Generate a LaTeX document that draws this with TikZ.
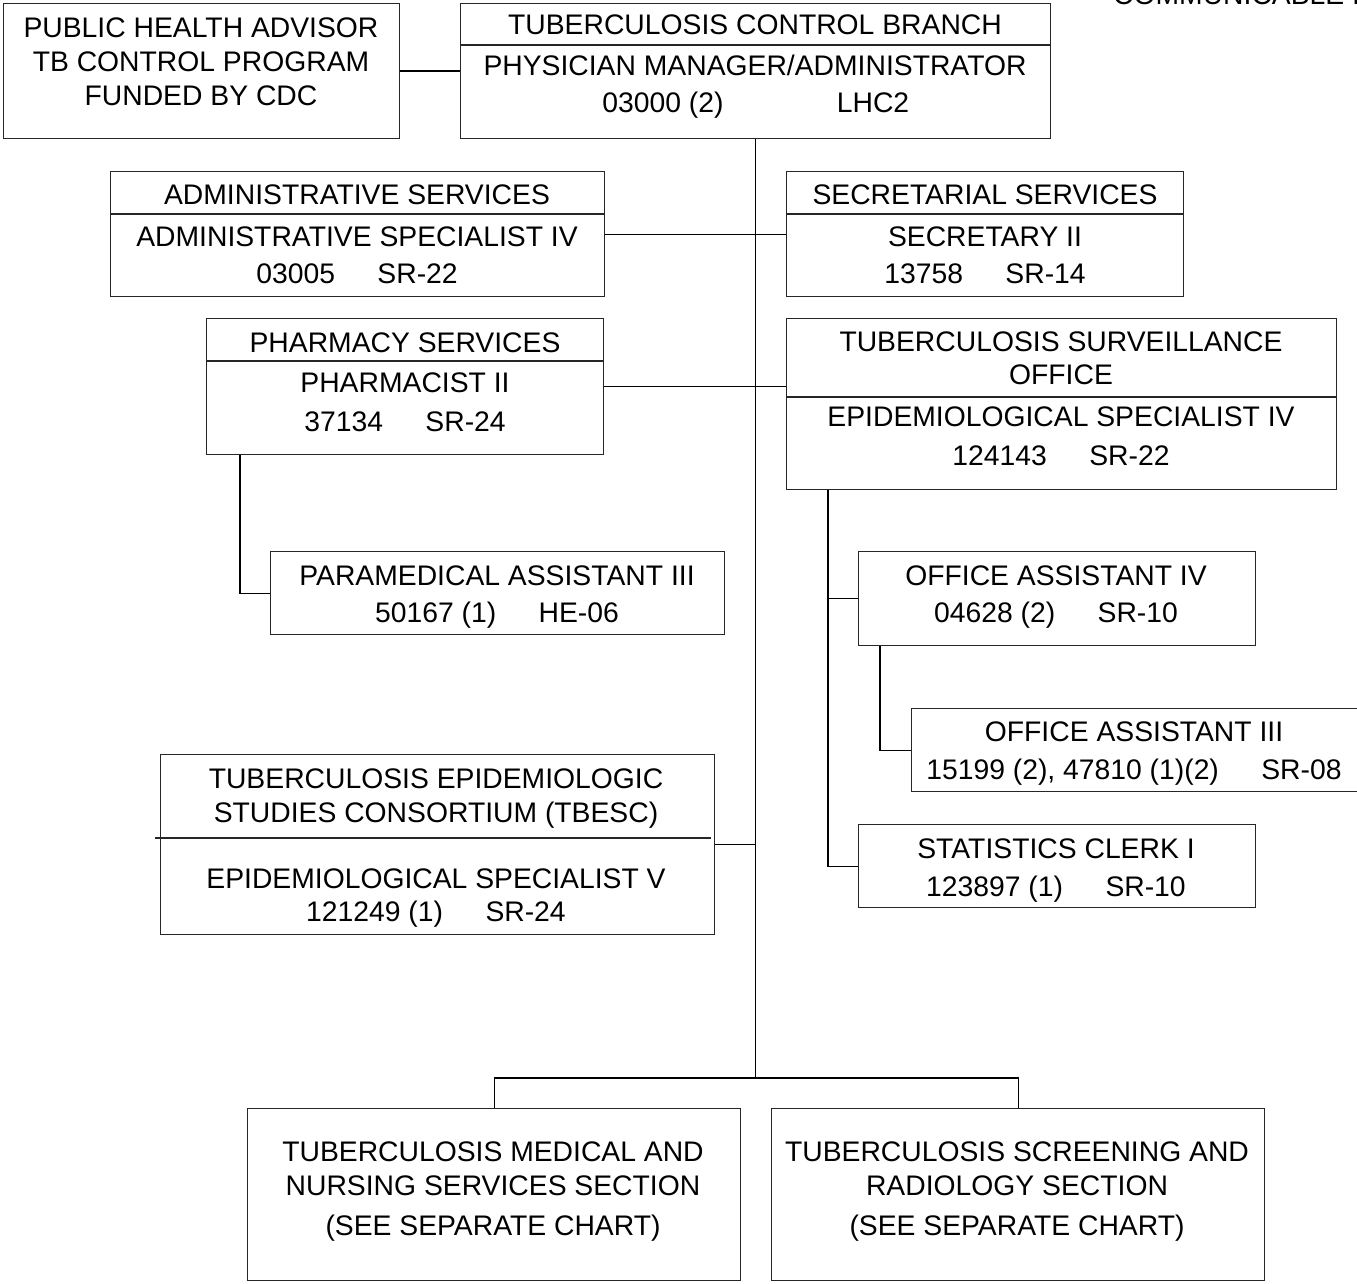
\documentclass[tikz,border=0pt]{standalone}
\usepackage{fontspec}
\setmainfont{Liberation Sans}
\begin{document}
\begin{tikzpicture}[x=1pt,y=-1pt,
  box/.style={draw=black!85, line width=1.1pt, inner sep=0pt, anchor=north west},
  lbl/.style={anchor=base, inner sep=0pt, font=\fontsize{28.3}{34}\selectfont},
  conn/.style={draw=black, line width=1.1pt}]
\useasboundingbox (0,0) rectangle (1357,1284);
% boxes
\node[box, minimum width=396pt, minimum height=135pt] (pha) at (3,3) {};
\node[box, minimum width=590pt, minimum height=135pt] (tcb) at (460,3) {};
\node[box, minimum width=494pt, minimum height=125pt] (adm) at (110,171) {};
\node[box, minimum width=397pt, minimum height=125pt] (sec) at (786,171) {};
\node[box, minimum width=397pt, minimum height=136pt] (phm) at (206,318) {};
\node[box, minimum width=550pt, minimum height=171pt] (surv) at (786,318) {};
\node[box, minimum width=454pt, minimum height=83pt] (para) at (270,551) {};
\node[box, minimum width=397pt, minimum height=94pt] (oa4) at (858,551) {};
\node[box, minimum width=480pt, minimum height=83pt] (oa3) at (911,708) {};
\node[box, minimum width=397pt, minimum height=83pt] (stat) at (858,824) {};
\node[box, minimum width=554pt, minimum height=180pt] (tbesc) at (160,754) {};
\node[box, minimum width=493pt, minimum height=172pt] (med) at (247,1108) {};
\node[box, minimum width=493pt, minimum height=172pt] (scr) at (771,1108) {};
% dividers
\coordinate (d1) at (0,45);
\coordinate (d2) at (0,214);
\coordinate (d3) at (0,361);
\coordinate (d4) at (0,397);
\draw[black!85, line width=1.1pt] (tcb.west |- d1) -- (tcb.east |- d1);
\draw[black!85, line width=1.1pt] (adm.west |- d2) -- (adm.east |- d2);
\draw[black!85, line width=1.1pt] (sec.west |- d2) -- (sec.east |- d2);
\draw[black!85, line width=1.1pt] (phm.west |- d3) -- (phm.east |- d3);
\draw[black!85, line width=1.1pt] (surv.west |- d4) -- (surv.east |- d4);
\coordinate (t1) at (155,838);
\coordinate (t2) at (711,838);
\draw[black!85, line width=1.1pt] (t1) -- (t2);
% connectors
\coordinate (bar) at (755,1078);
\coordinate (pv) at (240,0);
\coordinate (sv) at (828,0);
\coordinate (ov) at (880,0);
\draw[conn] (pha.east) -- (tcb.west);
\draw[conn] (tcb.south) -- (tcb.south |- bar);
\draw[conn] (med.north) -- (med.north |- bar) -- (scr.north |- bar) -- (scr.north);
\draw[conn] (adm.east) -- (sec.west);
\draw[conn] (phm.east) -- (phm.east -| surv.west);
\draw[conn] (tbesc.east) -- (tbesc.east -| tcb.south);
\draw[conn] (phm.south -| pv) -- (para.west -| pv) -- (para.west);
\draw[conn] (surv.south -| sv) -- (stat.west -| sv) -- (stat.west);
\draw[conn] (oa4.west -| sv) -- (oa4.west);
\draw[conn] (oa4.south -| ov) -- (oa3.west -| ov) -- (oa3.west);
% texts
\node[lbl, anchor=base west] (hdr) at (1113,5) {COMMUNICABLE I};
\node[lbl] (pha1) at (201,38) {PUBLIC HEALTH ADVISOR};
\node[lbl] (pha2) at (201,72) {TB CONTROL PROGRAM};
\node[lbl] (pha3) at (201,106) {FUNDED BY CDC};
\node[lbl] (tcb1) at (755,35) {TUBERCULOSIS CONTROL BRANCH};
\node[lbl] (tcb2) at (755,76) {PHYSICIAN MANAGER/ADMINISTRATOR};
\node[lbl] (tcb3) at (663,113) {03000 (2)};
\node[lbl] (tcb4) at (873,113) {LHC2};
\node[lbl] (adm1) at (357,205) {ADMINISTRATIVE SERVICES};
\node[lbl] (adm2) at (357,246) {ADMINISTRATIVE SPECIALIST IV};
\node[lbl] (adm3) at (357,283) {03005\hspace{1.5em}SR-22};
\node[lbl] (sec1) at (985,205) {SECRETARIAL SERVICES};
\node[lbl] (sec2) at (985,246) {SECRETARY II};
\node[lbl] (sec3) at (985,283) {13758\hspace{1.5em}SR-14};
\node[lbl] (phm1) at (405,352) {PHARMACY SERVICES};
\node[lbl] (phm2) at (405,392) {PHARMACIST II};
\node[lbl] (phm3) at (405,431) {37134\hspace{1.5em}SR-24};
\node[lbl] (srv1) at (1061,351) {TUBERCULOSIS SURVEILLANCE};
\node[lbl] (srv2) at (1061,384) {OFFICE};
\node[lbl] (srv3) at (1061,426) {EPIDEMIOLOGICAL SPECIALIST IV};
\node[lbl] (srv4) at (1061,465) {124143\hspace{1.5em}SR-22};
\node[lbl] (par1) at (497,585) {PARAMEDICAL ASSISTANT III};
\node[lbl] (par2) at (497,622) {50167 (1)\hspace{1.5em}HE-06};
\node[lbl] (oa41) at (1056,585) {OFFICE ASSISTANT IV};
\node[lbl] (oa42) at (1056,622) {04628 (2)\hspace{1.5em}SR-10};
\node[lbl] (oa31) at (1134,741) {OFFICE ASSISTANT III};
\node[lbl] (oa32) at (1134,779) {15199 (2), 47810 (1)(2)\hspace{1.5em}SR-08};
\node[lbl] (st1) at (1056,858) {STATISTICS CLERK I};
\node[lbl] (st2) at (1056,896) {123897 (1)\hspace{1.5em}SR-10};
\node[lbl] (tb1) at (436,788) {TUBERCULOSIS EPIDEMIOLOGIC};
\node[lbl] (tb2) at (436,822) {STUDIES CONSORTIUM (TBESC)};
\node[lbl] (tb3) at (436,888) {EPIDEMIOLOGICAL SPECIALIST V};
\node[lbl] (tb4) at (436,921) {121249 (1)\hspace{1.5em}SR-24};
\node[lbl] (md1) at (493,1161) {TUBERCULOSIS MEDICAL AND};
\node[lbl] (md2) at (493,1195) {NURSING SERVICES SECTION};
\node[lbl] (md3) at (493,1235) {(SEE SEPARATE CHART)};
\node[lbl] (sc1) at (1017,1161) {TUBERCULOSIS SCREENING AND};
\node[lbl] (sc2) at (1017,1195) {RADIOLOGY SECTION};
\node[lbl] (sc3) at (1017,1235) {(SEE SEPARATE CHART)};
\end{tikzpicture}
\end{document}
